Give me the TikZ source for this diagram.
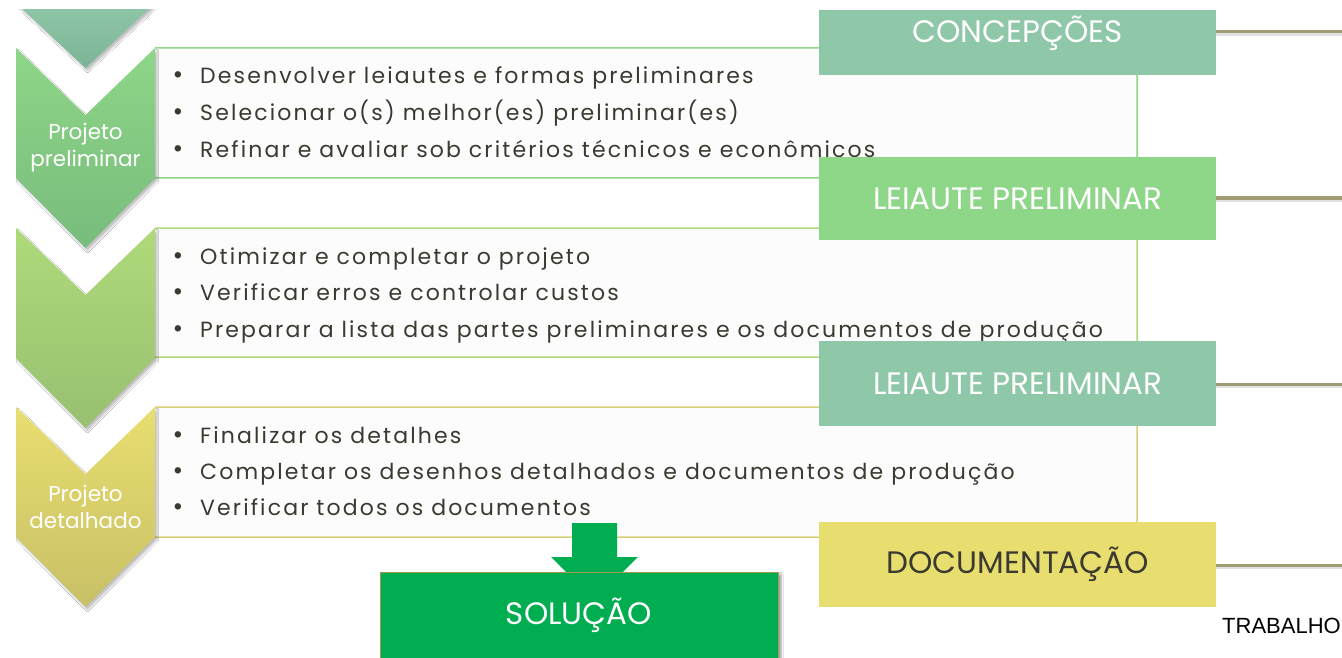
\documentclass[tikz,border=0pt]{standalone}
\usepackage{fontspec}
\usetikzlibrary{shadows.blur}
\newfontfamily\bodyfont[LetterSpace=9.7]{Poppins}
\newfontfamily\labfont{Poppins}
\newfontfamily\arialfont{Liberation Sans}
\definecolor{tealg}{HTML}{8FC8A8}
\definecolor{tealgd}{HTML}{7DB497}
\definecolor{greena}{HTML}{8ED688}
\definecolor{greenad}{HTML}{78BC7C}
\definecolor{greenb}{HTML}{AEDA7A}
\definecolor{greenbd}{HTML}{98C070}
\definecolor{yel}{HTML}{E8DE70}
\definecolor{yeld}{HTML}{C8C066}
\definecolor{yelline}{HTML}{D6D07A}
\definecolor{soltxt}{HTML}{00AD50}
\definecolor{connc}{HTML}{A09C74}
\definecolor{txtc}{HTML}{3A3A30}
\tikzset{
  chev/.style={shading=axis, shading angle=135, blur shadow={shadow xshift=2pt, shadow yshift=-3pt, shadow opacity=25, shadow blur steps=6}},
  panel/.style={fill=white!99!black, line width=1.5pt, rounded corners=8pt},
  labfnt/.style={font=\labfont\fontsize{31}{34}\selectfont},
  lab/.style={minimum width=397pt, inner sep=0pt, labfnt},
  bul/.style={anchor=base west, inner sep=0pt, font=\bodyfont\fontsize{22}{24}\selectfont, text=txtc},
  bdot/.style={anchor=base, inner sep=0pt, font=\labfont\fontsize{26}{26}\selectfont, text=txtc},
  chevtxt/.style={align=center, text=white, font=\labfont\fontsize{21.5}{27}\selectfont},
  conn/.style={draw=connc, line width=3pt},
  connsh/.style={draw=black, opacity=0.12, line width=3pt},
}
\newcommand{\chevpath}[1]{(16,#1) -- (85.5,#1+67) -- (155,#1) -- (155,#1+130) -- (85.5,#1+200) -- (16,#1+130) -- cycle}
\begin{document}
\begin{tikzpicture}[x=1pt, y=-1pt]
\useasboundingbox (0,0) rectangle (1342,658);
\fill[white] (0,0) rectangle (1342,658);
\begin{scope}
\clip (0,10) rectangle (1342,658);
% panels
\draw[panel, draw=greena] (155,48) -- (1137,48) -- (1137,178) -- (155,178);
\draw[panel, draw=greenb] (155,228) -- (1137,228) -- (1137,357) -- (155,357);
\draw[panel, draw=yelline] (155,407) -- (1137,407) -- (1137,537) -- (155,537);
% chevrons
\path[chev, top color=tealg, bottom color=tealgd] (18,0) -- (153,0) -- (153,5) -- (85.5,68) -- (18,5) -- cycle;
\path[chev, top color=greena, bottom color=greenad] \chevpath{48};
\path[chev, top color=greenb, bottom color=greenbd] \chevpath{228};
\path[chev, top color=yel, bottom color=yeld] \chevpath{407};
\node[chevtxt] (c2) at (85.5,148) {Projeto\\preliminar};
\node[chevtxt] (c4) at (85.5,507) {Projeto\\detalhado};
% bullets
\foreach \y/\t in {84/Desenvolver leiautes e formas preliminares,
                   121/Selecionar o(s) melhor(es) preliminar(es),
                   158/Refinar e avaliar sob critérios técnicos e econômicos,
                   264/Otimizar e completar o projeto,
                   300/Verificar erros e controlar custos,
                   337/Preparar a lista das partes preliminares e os documentos de produção,
                   443/Finalizar os detalhes,
                   479/Completar os desenhos detalhados e documentos de produção,
                   515/Verificar todos os documentos}
  {\node[bdot] at (178,\y) {•};
   \node[bul] at (200,\y) {\t};}
% label boxes
\node[lab, fill=tealg, minimum height=65pt, anchor=north west] (conc) at (819,10) {};
\node[text=white, labfnt] (conct) at (1017.5,33) {CONCEPÇÕES};
\node[lab, fill=greena, minimum height=83pt, anchor=north west, text=white] (lp1) at (819,157) {LEIAUTE PRELIMINAR};
\node[lab, fill=tealg, minimum height=85pt, anchor=north west, text=white] (lp2) at (819,341) {LEIAUTE PRELIMINAR};
\node[lab, fill=yel, minimum height=85pt, anchor=north west, text=txtc] (doc) at (819,522) {DOCUMENTAÇÃO};
% connectors
\coordinate (e1) at (1342,32);
\coordinate (e2) at (1342,198);
\coordinate (e3) at (1342,384);
\coordinate (e4) at (1342,565);
\foreach \a/\b in {conc/e1, lp1/e2, lp2/e3, doc/e4}{
  \draw[connsh] ([yshift=-2.5pt]\a.east |- \b) -- ([yshift=-2.5pt]\b);
  \draw[conn] (\a.east |- \b) -- (\b);
}
% solution
\fill[soltxt] (572,523) -- (617,523) -- (617,557) -- (638,557) -- (594.5,600) -- (551,557) -- (572,557) -- cycle;
\node[lab, minimum width=398pt, minimum height=100pt, anchor=north west, fill=soltxt, draw=yeld!80!black, line width=0.8pt, text=white, blur shadow={shadow xshift=3pt, shadow yshift=-2pt, shadow opacity=35}] (sol) at (380,572) {};
\node[text=white, labfnt] (solt) at (579,615) {SOLUÇÃO};
\node[anchor=east, font=\arialfont\fontsize{22}{26}\selectfont, text=black, inner sep=0pt] (trab) at (1341,626) {TRABALHO};
\end{scope}
\end{tikzpicture}
\end{document}
